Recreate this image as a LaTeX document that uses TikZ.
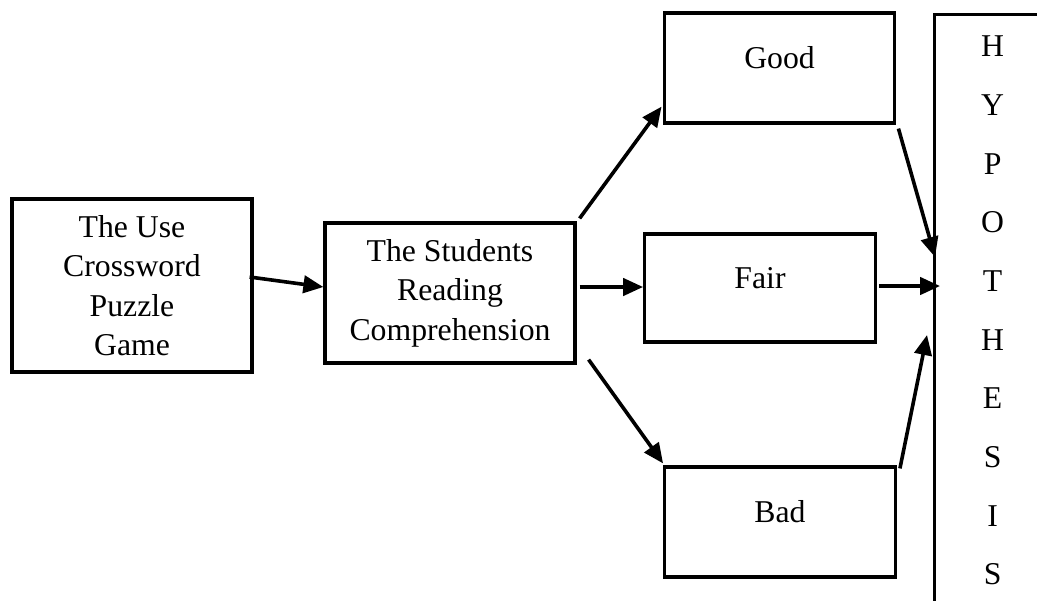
\documentclass[tikz,border=0pt]{standalone}
\usepackage{fontspec}
\setmainfont{Liberation Serif}
\usepackage{tikz}
\usetikzlibrary{calc,arrows.meta}

\begin{document}
\begin{tikzpicture}[x=0.75pt,y=-0.75pt,
  box/.style={draw,line width=2.4pt,rectangle,inner sep=0pt,
    font=\fontsize{23.8pt}{29.6pt}\selectfont},
  rate/.style={box,minimum width=173pt,text height=41.25pt,text depth=41.25pt},
  link/.style={line width=2.7pt,-{Triangle[length=15pt,width=13pt]}}]
  \useasboundingbox (0,0) rectangle (1037,600);
  \clip (0,0) rectangle (1037,600);

  \node[box,align=center,minimum width=180pt,minimum height=129.75pt] (use) at (132,285.5) {The Use\\Crossword\\Puzzle\\Game};
  \node[box,align=center,minimum width=187.5pt,minimum height=105pt] (students) at (450,293) {The Students\\Reading\\Comprehension};

  \node[rate] (good) at (779.5,68) {Good};
  \node[rate,text height=40.5pt,text depth=40.5pt] (fair) at (760,288) {Fair};
  \node[rate] (bad) at (780,522) {Bad};

  \node[box,anchor=north west,text width=87pt,align=center,inner ysep=16pt,
    font=\fontsize{23.8pt}{44pt}\selectfont] (hyp) at (933,13) {H\\Y\\P\\O\\T\\H\\E\\S\\I\\S};

  \draw[link] ($(use.east)+(-4,-8.5)$) -- ($(students.west)+(0,-6)$);

  \draw[link] ($(students.north east)+(3,-3)$) -- ($(good.south west)+(-1,-18)$);
  \draw[link] ($(students.east)+(3,-6)$) -- ($(fair.west)+(0,-1)$);
  \draw[link] ($(students.south east)+(12,-5)$) -- ($(bad.north west)+(0,-2)$);

  \draw[link] ($(good.south east)+(2,4)$) -- ($(hyp.north west)+(2,244)$);
  \draw[link] ($(fair.east)+(2,-2)$) -- ($(hyp.north west)+(7,273)$);
  \draw[link] ($(bad.north east)+(3,3)$) -- ($(hyp.north west)+(-6,322)$);
\end{tikzpicture}
\end{document}
